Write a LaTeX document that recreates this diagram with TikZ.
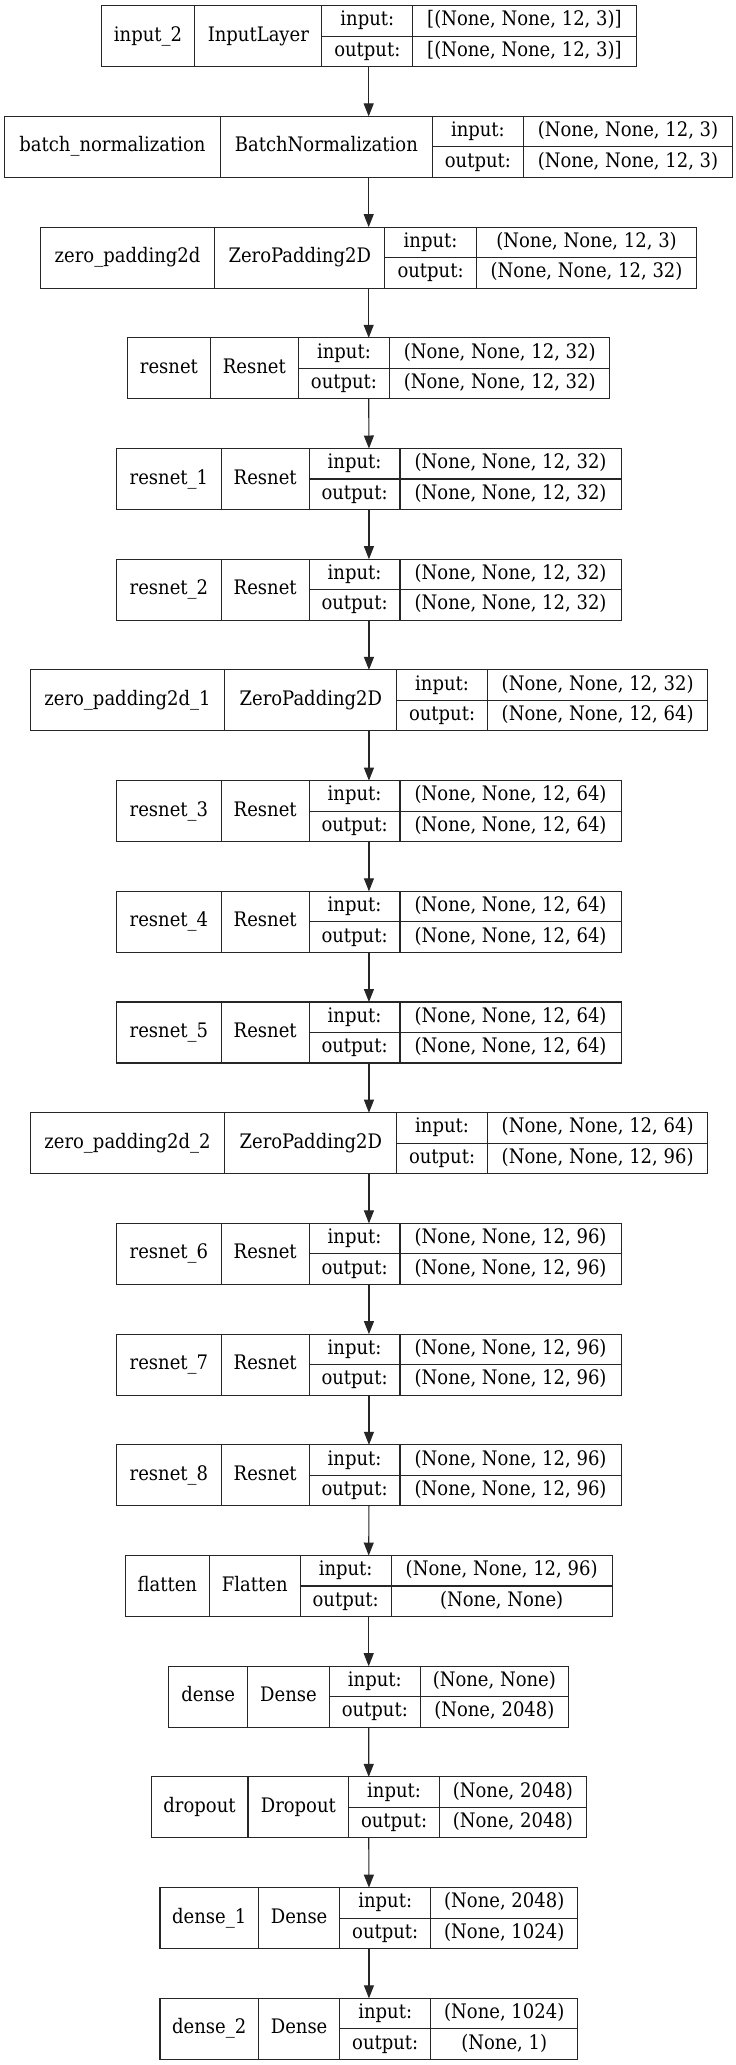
\documentclass[tikz,border=0pt]{standalone}
\usepackage{fontspec}
\setmainfont{DejaVu Serif}[FakeStretch=0.9]
\usetikzlibrary{arrows.meta}

% column layouts: left edge, three dividers, right edge (pt)
\def\Linput{\def\xa{101.2}\def\xb{194.8}\def\xc{321.9}\def\xd{412.7}\def\xe{636.2}}
\def\Lbn{\def\xa{4.7}\def\xb{220.2}\def\xc{432.5}\def\xd{523.3}\def\xe{732.7}}
\def\Lzp{\def\xa{40.5}\def\xb{214.6}\def\xc{384.9}\def\xd{476.2}\def\xe{696.9}}
\def\Lres{\def\xa{127.5}\def\xb{210.4}\def\xc{298.4}\def\xd{389.6}\def\xe{609.9}}
\def\Lresn{\def\xa{116.7}\def\xb{221.2}\def\xc{309.2}\def\xd{400.0}\def\xe{621.2}}
\def\Lzpn{\def\xa{30.1}\def\xb{224.9}\def\xc{396.7}\def\xd{487.5}\def\xe{707.8}}
\def\Lflat{\def\xa{125.2}\def\xb{209.4}\def\xc{300.2}\def\xd{391.1}\def\xe{612.2}}
\def\Ldense{\def\xa{168.9}\def\xb{247.5}\def\xc{329.4}\def\xd{420.2}\def\xe{568.5}}
\def\Ldrop{\def\xa{151.1}\def\xb{248.0}\def\xc{348.7}\def\xd{439.5}\def\xe{586.4}}
\def\Ldensen{\def\xa{160.0}\def\xb{258.4}\def\xc{339.8}\def\xd{430.6}\def\xe{577.9}}

% one record: id, row index, layout, name, class, input shape, output shape
\newcommand\layerrec[7]{%
  #3%
  \pgfmathsetmacro\yt{-(5.7+#2*110.7)}%
  \pgfmathsetmacro\ym{\yt-30.5}%
  \pgfmathsetmacro\yb{\yt-61}%
  \pgfmathsetmacro\yi{\yt-15.25}%
  \pgfmathsetmacro\yo{\yt-45.75}%
  \pgfmathsetmacro\w{\xe-\xa}%
  \pgfmathsetmacro\cx{(\xa+\xe)/2}%
  \node[recbox, minimum width=\w pt] (#1) at (\cx pt,\ym pt) {};
  \draw[recline] (\xb pt,\yt pt) -- (\xb pt,\yb pt)
                 (\xc pt,\yt pt) -- (\xc pt,\yb pt)
                 (\xd pt,\yt pt) -- (\xd pt,\yb pt)
                 (\xc pt,\ym pt) -- (\xe pt,\ym pt);
  \pgfmathsetmacro\ca{(\xa+\xb)/2}%
  \pgfmathsetmacro\cb{(\xb+\xc)/2}%
  \pgfmathsetmacro\cc{(\xc+\xd)/2}%
  \pgfmathsetmacro\cd{(\xd+\xe)/2}%
  \node[rectxt] (#1-name)  at (\ca pt,\ym pt) {#4};
  \node[rectxt] (#1-class) at (\cb pt,\ym pt) {#5};
  \node[rectxt] (#1-inl)   at (\cc pt,\yi pt) {input:};
  \node[rectxt] (#1-outl)  at (\cc pt,\yo pt) {output:};
  \node[rectxt] (#1-in)    at (\cd pt,\yi pt) {#6};
  \node[rectxt] (#1-out)   at (\cd pt,\yo pt) {#7};
}

\begin{document}
\begin{tikzpicture}[x=1pt,y=1pt,
  recbox/.style={draw=black!85, line width=1.1pt, minimum height=61pt, inner sep=0pt, outer sep=0pt},
  recline/.style={draw=black!85, line width=1.1pt},
  rectxt/.style={inner sep=0pt, font=\fontsize{20}{24}\selectfont, text height=14pt, text depth=4pt},
  arr/.style={draw=black!85, line width=1.1pt, -{Triangle[length=13pt,width=10pt]}}]
\useasboundingbox[fill=white] (0,0) rectangle (736,-2065);

\layerrec{l0}{0}{\Linput}{input\_2}{InputLayer}{[(None, None, 12, 3)]}{[(None, None, 12, 3)]}
\layerrec{l1}{1}{\Lbn}{batch\_normalization}{BatchNormalization}{(None, None, 12, 3)}{(None, None, 12, 3)}
\layerrec{l2}{2}{\Lzp}{zero\_padding2d}{ZeroPadding2D}{(None, None, 12, 3)}{(None, None, 12, 32)}
\layerrec{l3}{3}{\Lres}{resnet}{Resnet}{(None, None, 12, 32)}{(None, None, 12, 32)}
\layerrec{l4}{4}{\Lresn}{resnet\_1}{Resnet}{(None, None, 12, 32)}{(None, None, 12, 32)}
\layerrec{l5}{5}{\Lresn}{resnet\_2}{Resnet}{(None, None, 12, 32)}{(None, None, 12, 32)}
\layerrec{l6}{6}{\Lzpn}{zero\_padding2d\_1}{ZeroPadding2D}{(None, None, 12, 32)}{(None, None, 12, 64)}
\layerrec{l7}{7}{\Lresn}{resnet\_3}{Resnet}{(None, None, 12, 64)}{(None, None, 12, 64)}
\layerrec{l8}{8}{\Lresn}{resnet\_4}{Resnet}{(None, None, 12, 64)}{(None, None, 12, 64)}
\layerrec{l9}{9}{\Lresn}{resnet\_5}{Resnet}{(None, None, 12, 64)}{(None, None, 12, 64)}
\layerrec{l10}{10}{\Lzpn}{zero\_padding2d\_2}{ZeroPadding2D}{(None, None, 12, 64)}{(None, None, 12, 96)}
\layerrec{l11}{11}{\Lresn}{resnet\_6}{Resnet}{(None, None, 12, 96)}{(None, None, 12, 96)}
\layerrec{l12}{12}{\Lresn}{resnet\_7}{Resnet}{(None, None, 12, 96)}{(None, None, 12, 96)}
\layerrec{l13}{13}{\Lresn}{resnet\_8}{Resnet}{(None, None, 12, 96)}{(None, None, 12, 96)}
\layerrec{l14}{14}{\Lflat}{flatten}{Flatten}{(None, None, 12, 96)}{(None, None)}
\layerrec{l15}{15}{\Ldense}{dense}{Dense}{(None, None)}{(None, 2048)}
\layerrec{l16}{16}{\Ldrop}{dropout}{Dropout}{(None, 2048)}{(None, 2048)}
\layerrec{l17}{17}{\Ldensen}{dense\_1}{Dense}{(None, 2048)}{(None, 1024)}
\layerrec{l18}{18}{\Ldensen}{dense\_2}{Dense}{(None, 1024)}{(None, 1)}

\foreach \a/\b in {l0/l1,l1/l2,l2/l3,l3/l4,l4/l5,l5/l6,l6/l7,l7/l8,l8/l9,l9/l10,
                   l10/l11,l11/l12,l12/l13,l13/l14,l14/l15,l15/l16,l16/l17,l17/l18}
  \draw[arr] (\a.south) -- (\b.north);
\end{tikzpicture}
\end{document}
